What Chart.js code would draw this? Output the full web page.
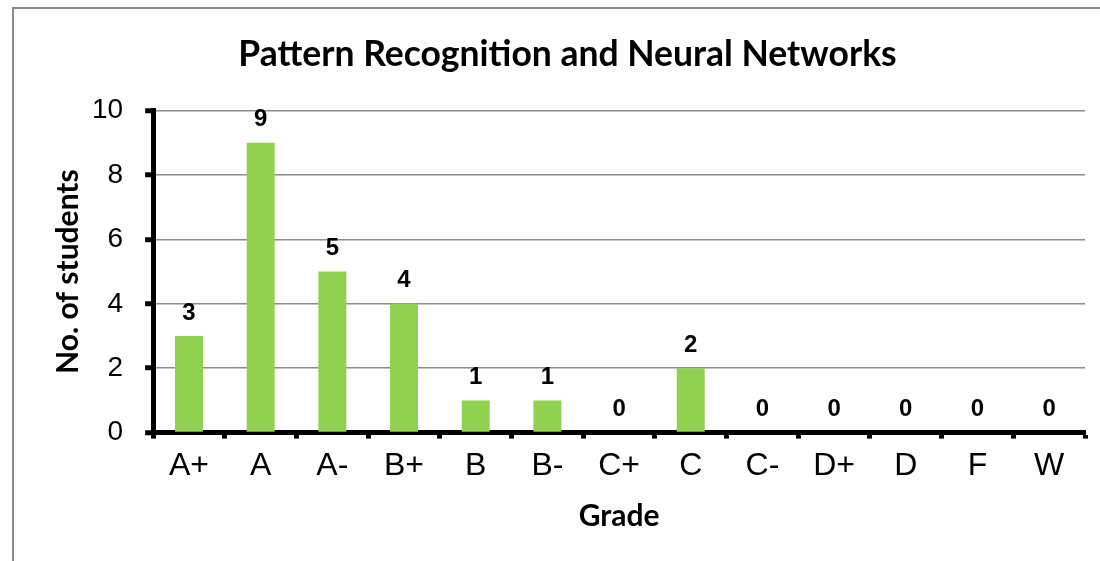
<!DOCTYPE html>
<html>
<head>
<meta charset="utf-8">
<script src="https://cdn.jsdelivr.net/npm/chart.js@4/dist/chart.umd.min.js"></script>
<style>
  html, body { margin: 0; padding: 0; background: #fff; }
  #wrap { width: 1100px; height: 561px; }
</style>
</head>
<body>
<div id="wrap"><canvas id="grafico" width="1100" height="561"></canvas></div>
<script>
const grades = ['A+', 'A', 'A-', 'B+', 'B', 'B-', 'C+', 'C', 'C-', 'D+', 'D', 'F', 'W'];
const students = [3, 9, 5, 4, 1, 1, 0, 2, 0, 0, 0, 0, 0];
const yTicks = [0, 2, 4, 6, 8, 10];

// frame round the whole chart
const frame = {
  id: 'frame',
  beforeDraw(chart) {
    const c = chart.ctx;
    c.save();
    c.strokeStyle = '#888';
    c.lineWidth = 2;
    c.strokeRect(13, 8, 1200, 700);
    c.restore();
  }
};

// value labels over the bars
const valueLabels = {
  id: 'valueLabels',
  afterDatasetsDraw(chart) {
    const c = chart.ctx;
    const meta = chart.getDatasetMeta(0);
    c.save();
    c.font = 'bold 24px "Liberation Sans", Arial, sans-serif';
    c.fillStyle = '#000';
    c.textAlign = 'center';
    c.textBaseline = 'bottom';
    meta.data.forEach((bar, i) => {
      c.fillText(students[i], bar.x, bar.y - 11);
    });
    c.restore();
  }
};

const ctx = document.getElementById('grafico').getContext('2d');
const grafico = new Chart(ctx, {
  type: 'bar',
  data: {
    labels: grades,
    datasets: [{
      label: 'No. of students',
      data: students,
      backgroundColor: '#92d050',
      categoryPercentage: 0.39,
      barPercentage: 1
    }]
  },
  options: {
    responsive: false,
    animation: false,
    layout: { padding: { left: 50, right: 15, top: 0, bottom: 27 } },
    plugins: {
      legend: { display: false },
      tooltip: { enabled: false },
      title: {
        display: true,
        text: 'Pattern Recognition and Neural Networks',
        color: '#000',
        font: { family: 'Lato, "Open Sans", sans-serif', size: 35.5, weight: 'bold' },
        padding: { top: 33, bottom: 35 }
      }
    },
    scales: {
      x: {
        border: { color: '#000', width: 5 },
        grid: { drawOnChartArea: false, tickColor: '#000', tickWidth: 5, tickLength: 6 },
        ticks: { color: '#000', font: { family: '"Liberation Sans", Arial, sans-serif', size: 32 }, padding: 8 },
        title: {
          display: true, text: 'Grade', color: '#000',
          font: { family: 'Lato, "Open Sans", sans-serif', size: 30, weight: 'bold' },
          padding: { top: 5, bottom: 0 }
        }
      },
      y: {
        min: 0, max: 10,
        afterBuildTicks(axis) { axis.ticks = yTicks.map(v => ({ value: v })); },
        afterFit(axis) { axis.width -= 22; },
        border: { color: '#000', width: 5 },
        grid: { color: '#8c8c8c', lineWidth: 1.5, tickColor: '#000', tickWidth: 5, tickLength: 8 },
        ticks: { color: '#000', font: { family: '"Liberation Sans", Arial, sans-serif', size: 28 }, padding: 22 },
        title: {
          display: true, text: 'No. of students', color: '#000',
          font: { family: 'Lato, "Open Sans", sans-serif', size: 30, weight: 'bold' },
          padding: { top: 0, bottom: 6 }
        }
      }
    }
  },
  plugins: [frame, valueLabels]
});
</script>
</body>
</html>
